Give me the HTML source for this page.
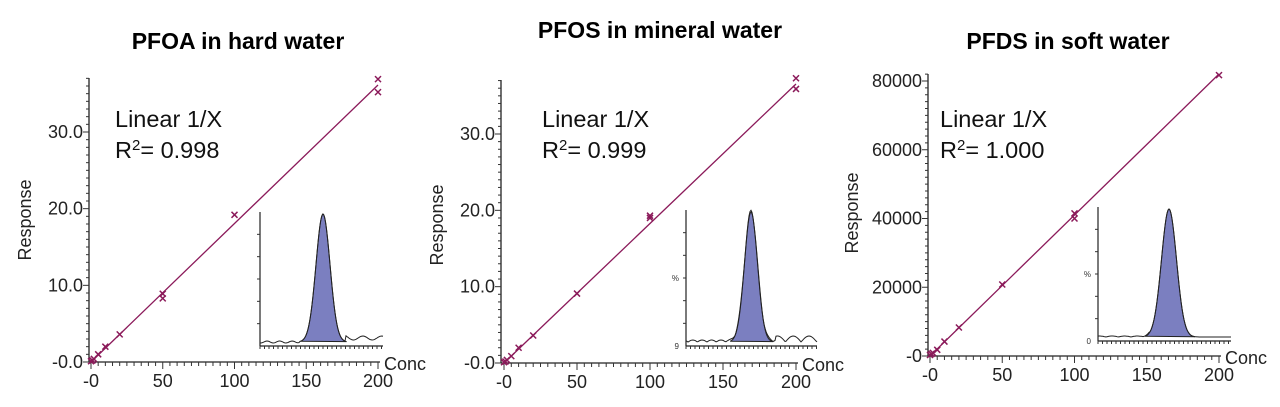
<!DOCTYPE html>
<html><head><meta charset="utf-8"><style>
html,body{margin:0;padding:0;background:#fff;width:1280px;height:407px;overflow:hidden}
svg{display:block;font-family:"Liberation Sans",Arial,sans-serif}
</style></head><body>
<svg id="s" width="1280" height="407" xmlns="http://www.w3.org/2000/svg"></svg>
<script>
const s=document.getElementById('s');let h='';
const C='#8b1a5a';
function panel(p){
 const {ax,top,x0,x200,y0,yTop,yRef,step,minor,title,tx,labels,r2,inset,ylab,pts,end}=p;
 const X=v=>x0+(x200-x0)*v/200, Y=v=>y0-(y0-yTop)*v/yRef;
 h+=`<text x="${tx}" y="${p.ty}" font-size="23" font-weight="bold" text-anchor="middle">${title}</text>`;
 h+=`<line x1="${ax}" y1="${top}" x2="${ax}" y2="${y0}" stroke="#222" stroke-width="1.3"/>`;
 h+=`<line x1="${ax}" y1="${y0}" x2="${x200+2}" y2="${y0}" stroke="#222" stroke-width="1.3"/>`;
 for(let i=0;Y(i*minor)>=top-0.5;i++){const v=i*minor,y=Y(v);const maj=Math.abs(v/step-Math.round(v/step))<1e-6;h+=`<line x1="${ax-(maj?6:3)}" y1="${y}" x2="${ax}" y2="${y}" stroke="#333" stroke-width="1"/>`;}
 for(let v=0;v<=200;v+=5){const x=X(v);const maj=v%50==0;h+=`<line x1="${x}" y1="${y0}" x2="${x}" y2="${y0+(maj?7:4)}" stroke="#333" stroke-width="1"/>`;}
 labels.forEach((l,i)=>{h+=`<text x="${ax-6}" y="${Y(step*i)+6}" font-size="18" text-anchor="end" fill="#222">${l}</text>`;});
 ['-0','50','100','150','200'].forEach((l,i)=>{h+=`<text x="${X(i*50)}" y="${y0+25}" font-size="18" text-anchor="middle" fill="#222">${l}</text>`;});
 h+=`<text x="${x200+6}" y="${y0+8}" font-size="18" fill="#222">Conc</text>`;
 h+=`<text transform="translate(${ylab},${p.ylabY}) rotate(-90)" font-size="18" text-anchor="middle" fill="#222">Response</text>`;
 h+=`<text x="${p.lx}" y="127" font-size="23.5" fill="#111">Linear 1/X</text>`;
 h+=`<text x="${p.lx}" y="158" font-size="23.5" fill="#111">R<tspan font-size="15" dy="-8">2</tspan><tspan dy="8">= ${r2}</tspan></text>`;
 h+=`<line x1="${X(0)}" y1="${Y(0)}" x2="${X(200)}" y2="${end}" stroke="${C}" stroke-width="1.3"/>`;
 pts.forEach(([v,r])=>{const x=X(v),y=Y(r);h+=`<path d="M${x-3} ${y-3}L${x+3} ${y+3}M${x+3} ${y-3}L${x-3} ${y+3}" stroke="${C}" stroke-width="1.5"/>`;});
 const {l,t,b,r,pk,w,noise,lab}=inset;
 h+=`<line x1="${l}" y1="${t}" x2="${l}" y2="${b}" stroke="#222" stroke-width="1.2"/><line x1="${l}" y1="${b}" x2="${r}" y2="${b}" stroke="#222" stroke-width="1.2"/>`;
 for(let x=l;x<=r;x+=4.5)h+=`<line x1="${x}" y1="${b}" x2="${x}" y2="${b+3}" stroke="#333"/>`;
 for(let k=1;k<6;k++)h+=`<line x1="${l-3}" y1="${t+(b-t)*k/6}" x2="${l}" y2="${t+(b-t)*k/6}" stroke="#333"/>`;
 let d='';const base=b-4;
 for(let x=l;x<=r;x++){const g=Math.exp(-Math.pow((x-pk)/w,2)/2);const y=base-(base-t-2)*g+noise(x);d+=(x==l?'M':'L')+x+' '+y.toFixed(1);}
 let fd='';for(let x=pk-3.2*w;x<=pk+3.5*w;x++){const g=Math.exp(-Math.pow((x-pk)/w,2)/2);fd+=(fd?'L':'M')+x+' '+(base-(base-t-2)*g).toFixed(1);}
 h+=`<path d="${fd}Z" fill="#7b7fc0" stroke="#222" stroke-width="1"/>`;
 h+=`<path d="${d}" fill="none" stroke="#222" stroke-width="1"/>`;
 if(lab){h+=`<text x="${l-7}" y="${(t+b)/2+3}" font-size="8" text-anchor="end" fill="#333">%</text><text x="${l-7}" y="${b+3}" font-size="8" text-anchor="end" fill="#333">${lab}</text>`;}
}
panel({ax:89,top:78,x0:91,x200:378,y0:362,yTop:132,yRef:30,step:10,minor:1,title:'PFOA in hard water',tx:238,ty:49,labels:['-0.0','10.0','20.0','30.0'],r2:'0.998',lx:115,ylab:31,ylabY:220,end:85,
 pts:[[0,0.1],[1,0.2],[2,0.4],[5,1.0],[10,2.0],[20,3.6],[50,8.9],[50,8.3],[100,19.2],[200,36.9],[200,35.2]],
 inset:{l:260,t:212,b:346,r:383,pk:323,w:7,noise:x=>x>345?-4-2*Math.sin(x/3):(x<300?-1*Math.sin(x/2):0)}});
panel({ax:501,top:80,x0:504,x200:796,y0:363,yTop:134,yRef:30,step:10,minor:1,title:'PFOS in mineral water',tx:660,ty:38,labels:['-0.0','10.0','20.0','30.0'],r2:'0.999',lx:542,ylab:443,ylabY:225,end:84,
 pts:[[0,0.1],[1,0.2],[2,0.4],[5,0.9],[10,2.0],[20,3.6],[50,9.1],[100,19.3],[100,19.0],[200,37.3],[200,35.9]],
 inset:{l:686,t:210,b:346,r:817,pk:751,w:6.5,noise:x=>x>775?-6*Math.abs(Math.sin(x/5)):-2*Math.abs(Math.sin(x/3)),lab:'9'}});
panel({ax:928,top:74,x0:930,x200:1219,y0:356,yTop:81,yRef:80000,step:20000,minor:2000,title:'PFDS in soft water',tx:1068,ty:49,labels:['-0','20000','40000','60000','80000'],r2:'1.000',lx:940,ylab:858,ylabY:213,end:74,
 pts:[[0,300],[1,600],[2,900],[5,1800],[10,4200],[20,8300],[50,20800],[100,41500],[100,40000],[200,81700]],
 inset:{l:1098,t:207,b:341,r:1231,pk:1169,w:7.5,noise:x=>x<1150?-1*Math.abs(Math.sin(x/4)):0,lab:'0'}});
s.innerHTML=h;
</script>
</body></html>
